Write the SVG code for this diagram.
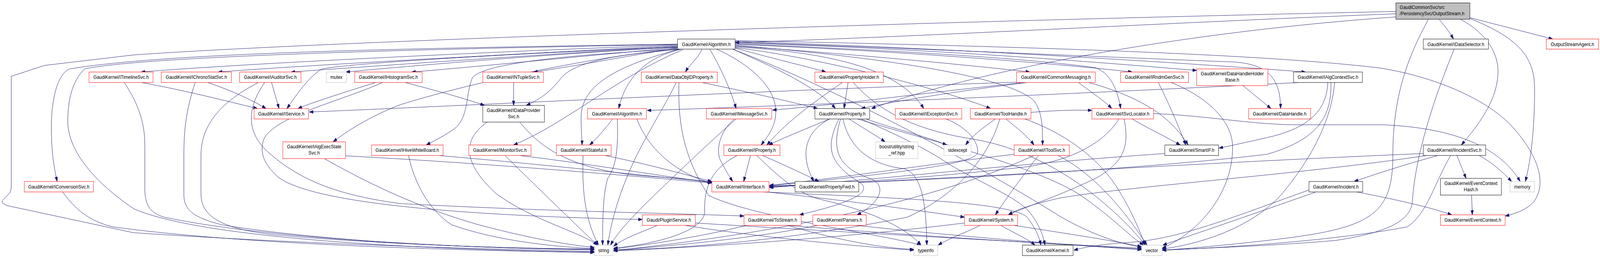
<svg xmlns="http://www.w3.org/2000/svg" width="4673" height="661" viewBox="0 0 4673 661" preserveAspectRatio="none" style="width:100%;height:100%">
<style>
.e{fill:none;stroke:#191970;stroke-width:1;marker-end:url(#arr)}
rect{fill:#ffffff;stroke-width:1}
.r rect{stroke:#ff0000}
.k rect{stroke:#000000}
.g rect{stroke:#bfbfbf}
.root rect{fill:#bfbfbf;stroke:#000000}
text{font-family:"Liberation Sans",Arial,Helvetica,sans-serif;font-size:13.1px;fill:#000000;text-anchor:middle}
.root text{text-anchor:start}
</style>
<defs>
<marker id="arr" viewBox="0 0 12 8" refX="12" refY="4" markerWidth="12" markerHeight="8" markerUnits="userSpaceOnUse" orient="auto">
<path d="M0,0 L12,4 L0,8 z" fill="#191970" stroke="#191970" stroke-width="1"/>
</marker>
</defs>
<rect x="0" y="0" width="4673" height="661" style="fill:#ffffff;stroke:none"/>
<g transform="matrix(1 0 0 0.9944 0 -0.43)">
<g id="edges">
<path class="e" d="M4077,36 C3500,55 2700,95 2147,110"/>
<path class="e" d="M4203,50 C4220,68 4235,85 4245,101"/>
<path class="e" d="M4293,46 L4535,101"/>
<path class="e" d="M4293,48 C4440,100 4482,150 4482,230 C4482,330 4472,410 4455,468"/>
<path class="e" d="M4265,50 C4330,80 4378,130 4375,190 C4372,260 4320,320 4268,374"/>
<path class="e" d="M4172,50 C4110,150 4068,250 4068,400 C4068,560 4000,590 3700,620 C3550,635 3450,642 3394,645"/>
<path class="e" d="M4077,30 C2500,60 900,110 390,142 L130,169 L33,197 L33,483 L30,496 L7,517 L7,523 L20,530 L390,600 C900,630 1400,642 1736,648"/>
<path class="e" d="M4077,44 C3500,80 2900,170 2545,280"/>
<path class="e" d="M1979,116 C1400,135 700,165 412,186"/>
<path class="e" d="M1979,118 C1500,140 900,168 637,186"/>
<path class="e" d="M1979,120 C1600,140 1100,170 850,186"/>
<path class="e" d="M1979,121 C1600,135 1050,160 940,178 C900,200 870,240 838,280"/>
<path class="e" d="M1979,122 C1600,140 1200,170 1010,186"/>
<path class="e" d="M1979,123 C1700,145 1400,172 1202,186"/>
<path class="e" d="M1979,124 C1800,150 1650,175 1558,186"/>
<path class="e" d="M1985,128 C1800,140 1680,160 1640,200 C1610,235 1580,255 1537,272"/>
<path class="e" d="M2050,127 C2040,150 2015,165 2002,186"/>
<path class="e" d="M1990,127 C1900,145 1830,190 1807,280"/>
<path class="e" d="M1985,127 C1800,170 1700,220 1697,300 C1697,340 1700,360 1700,374"/>
<path class="e" d="M2073,127 C2095,160 2130,220 2150,280"/>
<path class="e" d="M2093,127 C2200,170 2290,240 2260,320 C2250,345 2235,360 2223,374"/>
<path class="e" d="M2147,124 C2250,150 2350,170 2412,186"/>
<path class="e" d="M2140,127 C2250,170 2380,220 2440,280"/>
<path class="e" d="M2147,121 C2400,135 2620,170 2698,280"/>
<path class="e" d="M2147,123 C2400,150 2750,230 2893,280"/>
<path class="e" d="M2147,119 C2500,140 2850,170 3008,186"/>
<path class="e" d="M2147,117 C2600,150 2950,200 3020,260 C3045,290 3045,330 3045,374"/>
<path class="e" d="M2147,115 C2600,130 3100,165 3307,186"/>
<path class="e" d="M2147,113 C2600,130 3000,150 3200,175 C3245,190 3265,235 3273,280"/>
<path class="e" d="M2147,111 C2700,125 3200,160 3495,182"/>
<path class="e" d="M2147,109 C2800,130 3300,150 3600,160 C3700,165 3740,200 3740,280"/>
<path class="e" d="M2147,107 C2800,125 3500,165 3813,186"/>
<path class="e" d="M1979,126 C1700,150 1350,220 1170,270 C1080,300 1010,340 973,366"/>
<path class="e" d="M1979,127 C1700,140 1420,160 1380,200 C1360,240 1370,300 1330,330 C1300,350 1270,362 1245,374"/>
<path class="e" d="M1995,128 C1800,200 1650,320 1500,374"/>
<path class="e" d="M1979,114 C1200,125 500,135 203,178 C170,190 150,250 150,330 C150,400 160,440 167,468"/>
<path class="e" d="M1979,115 C1000,130 400,150 247,178 C210,210 198,260 198,313 C198,380 260,460 390,538 C600,620 1300,645 1736,650"/>
<path class="e" d="M2140,127 C2500,250 2900,450 3100,560 C3200,610 3280,630 3334,637"/>
<path class="e" d="M2147,105 C3000,120 3700,140 4033,176 C4200,200 4350,260 4420,330 C4490,400 4520,470 4480,520 C4460,540 4430,550 4396,557"/>
<path class="e" d="M413,213 C550,235 680,265 752,280"/>
<path class="e" d="M363,213 C390,250 423,300 423,373 L423,487 C423,530 440,550 480,560 C800,620 1400,640 1736,644"/>
<path class="e" d="M607,213 C680,235 740,260 777,280"/>
<path class="e" d="M570,213 C545,280 537,330 537,400 L537,500 C537,540 560,560 650,580 C1000,630 1500,642 1736,643"/>
<path class="e" d="M793,213 L815,280"/>
<path class="e" d="M755,213 C650,260 587,320 587,400 L587,500 C587,560 650,590 800,605 C1100,630 1500,641 1736,642"/>
<path class="e" d="M773,213 C720,280 720,340 780,390 C880,470 1000,505 1170,525 C1600,545 1900,548 2173,557"/>
<path class="e" d="M1097,213 C1000,240 920,262 870,280"/>
<path class="e" d="M1183,213 C1280,235 1360,255 1415,272"/>
<path class="e" d="M1117,213 C1000,260 800,300 770,360 C755,400 780,430 810,455 C900,520 1300,555 1876,566"/>
<path class="e" d="M1500,213 L1500,272"/>
<path class="e" d="M2050,213 C2200,240 2320,265 2388,280"/>
<path class="e" d="M1983,213 C1980,300 1990,400 2070,504 C2200,560 2550,600 2690,632"/>
<path class="e" d="M1975,213 C1950,260 1900,330 1860,400 C1810,490 1785,570 1775,632"/>
<path class="e" d="M2477,213 L2465,280"/>
<path class="e" d="M2460,213 C2400,250 2300,310 2240,374"/>
<path class="e" d="M2492,213 C2580,300 2700,340 2850,360 C3100,400 3280,560 3345,632"/>
<path class="e" d="M2975,212 C2200,235 1300,275 903,289"/>
<path class="e" d="M2990,213 C2700,240 2450,270 2256,284"/>
<path class="e" d="M3000,213 C2800,235 2620,260 2515,280"/>
<path class="e" d="M3150,213 C3190,240 3225,260 3247,280"/>
<path class="e" d="M3180,213 C3330,250 3420,300 3470,374"/>
<path class="e" d="M3383,213 C3410,260 3440,320 3463,374"/>
<path class="e" d="M3420,213 C3500,240 3600,300 3600,380 C3600,500 3500,600 3394,640"/>
<path class="e" d="M3630,221 L3712,280"/>
<path class="e" d="M3795,213 C3200,240 2400,270 1890,285"/>
<path class="e" d="M3878,213 C3875,280 3830,330 3700,355 C3640,367 3600,375 3560,382"/>
<path class="e" d="M3887,213 C3890,300 3850,360 3700,398 C3300,440 2700,465 2247,480"/>
<path class="e" d="M3898,213 C3890,300 3840,400 3740,504 C3650,590 3500,630 3394,642"/>
<path class="e" d="M4200,401 C4120,420 4030,445 3955,468"/>
<path class="e" d="M4255,401 L4282,460"/>
<path class="e" d="M4320,401 C4360,420 4390,445 4415,468"/>
<path class="e" d="M4157,396 C3500,420 2800,460 2247,481"/>
<path class="e" d="M4237,401 C4190,470 4170,550 4110,585 C3900,620 3600,638 3394,645"/>
<path class="e" d="M4167,401 C3800,450 3300,480 3100,510 C3020,525 2970,540 2945,554"/>
<path class="e" d="M3963,495 C4080,515 4180,535 4240,554"/>
<path class="e" d="M3843,495 C3700,540 3500,600 3396,632"/>
<path class="e" d="M3823,490 C3600,560 3450,615 3300,625 C3200,630 3160,640 3136,645"/>
<path class="e" d="M4298,503 L4300,554"/>
<path class="e" d="M4247,127 C4190,250 4133,400 4125,520 C4120,570 4050,600 3900,620 C3700,635 3500,640 3394,645"/>
<path class="e" d="M1423,315 C1350,360 1350,420 1450,500 C1560,570 1700,600 1745,632"/>
<path class="e" d="M1518,315 C1570,370 1650,440 1900,455 C1990,460 2040,465 2079,470"/>
<path class="e" d="M1789,307 C1770,330 1745,355 1722,374"/>
<path class="e" d="M1803,307 C1806,380 1800,430 1775,460 C1760,500 1760,580 1760,632"/>
<path class="e" d="M1860,307 C1900,400 2000,455 2079,472"/>
<path class="e" d="M2145,307 C2100,340 2090,390 2105,415 C2120,440 2130,455 2140,468"/>
<path class="e" d="M2150,307 C2080,360 1950,470 1880,530 C1830,575 1800,605 1783,632"/>
<path class="e" d="M2423,307 C2350,340 2335,400 2377,468"/>
<path class="e" d="M2455,307 C2430,380 2440,430 2540,460 C2600,480 2560,530 2503,554"/>
<path class="e" d="M2462,307 C2480,380 2540,425 2640,435 C2700,450 2705,550 2707,632"/>
<path class="e" d="M2480,307 C2520,330 2560,350 2585,366"/>
<path class="e" d="M2423,307 C2360,330 2290,355 2245,374"/>
<path class="e" d="M2530,307 C2600,330 2700,350 2765,374"/>
<path class="e" d="M2450,307 C2410,380 2420,420 2510,470 C2560,500 2450,530 2335,554"/>
<path class="e" d="M2515,307 C2600,340 2700,380 2773,424 C2850,465 2950,500 3000,540 C3030,570 3045,600 3052,632"/>
<path class="e" d="M2505,307 C2700,360 3000,420 3150,500 C3250,560 3300,610 3340,632"/>
<path class="e" d="M2763,307 C2830,330 2860,370 2855,395 C2840,420 2700,440 2247,479"/>
<path class="e" d="M2907,307 C2870,330 2840,350 2820,374"/>
<path class="e" d="M2938,307 C2970,330 3000,350 3020,374"/>
<path class="e" d="M2920,307 C2890,400 2800,500 2650,560 C2300,620 2000,640 1792,645"/>
<path class="e" d="M3011,290 C3080,285 3140,283 3189,285"/>
<path class="e" d="M2993,307 C3100,340 3200,400 3260,480 C3310,550 3330,600 3345,632"/>
<path class="e" d="M3307,307 C3350,330 3410,355 3447,374"/>
<path class="e" d="M3268,307 C3230,360 3150,410 3000,430 C2700,460 2450,472 2247,482"/>
<path class="e" d="M3283,307 C3300,380 3280,420 3200,460 C3080,510 2990,535 2945,554"/>
<path class="e" d="M3369,293 C3550,300 3650,322 3800,322 L4040,322 C4250,330 4380,380 4440,468"/>
<path class="e" d="M1009,402 C1400,420 1800,450 2079,472"/>
<path class="e" d="M947,409 C1050,460 1200,530 1400,580 C1550,615 1650,630 1736,638"/>
<path class="e" d="M1280,401 C1600,425 1900,455 2079,469"/>
<path class="e" d="M1193,401 C1210,470 1250,540 1320,580 C1450,620 1600,635 1736,641"/>
<path class="e" d="M1517,401 C1700,420 1900,450 2079,471"/>
<path class="e" d="M1475,401 C1520,440 1600,510 1660,560 C1700,595 1725,615 1745,632"/>
<path class="e" d="M1703,401 C1700,480 1705,560 1748,632"/>
<path class="e" d="M1767,401 C1900,425 2000,450 2079,468"/>
<path class="e" d="M2192,401 L2172,468"/>
<path class="e" d="M2153,401 C2090,430 2055,470 2058,547 C2055,590 1950,625 1792,640"/>
<path class="e" d="M2227,401 C2290,425 2350,450 2392,468"/>
<path class="e" d="M2210,401 C2280,460 2330,500 2400,515 C2550,545 2650,590 2690,632"/>
<path class="e" d="M3033,401 C2990,450 2940,510 2907,554"/>
<path class="e" d="M3090,401 C3200,450 3290,550 3350,632"/>
<path class="e" d="M3020,401 C2800,490 2400,590 1792,646"/>
<path class="e" d="M2962,398 C2700,425 2450,460 2247,478"/>
<path class="e" d="M3402,396 C3000,420 2600,460 2247,484"/>
<path class="e" d="M183,495 C220,540 260,570 330,585 C700,630 1300,645 1736,651"/>
<path class="e" d="M2230,495 C2600,510 2950,520 3000,560 C3025,590 3035,610 3040,632"/>
<path class="e" d="M2240,495 C2500,520 2700,545 2817,560"/>
<path class="e" d="M2300,581 C2450,620 2580,640 2669,643"/>
<path class="e" d="M1920,581 C1870,600 1820,615 1792,635"/>
<path class="e" d="M2000,581 C2200,610 2500,635 2669,645"/>
<path class="e" d="M2031,575 C2500,600 3000,625 3334,640"/>
<path class="e" d="M2180,581 C2050,610 1900,630 1792,642"/>
<path class="e" d="M2300,581 C2700,610 3100,630 3334,642"/>
<path class="e" d="M2390,581 C2200,615 1950,635 1792,645"/>
<path class="e" d="M2500,581 C2800,610 3100,630 3334,644"/>
<path class="e" d="M2923,581 C2960,600 3000,615 3023,632"/>
<path class="e" d="M2863,581 C2820,600 2770,615 2740,632"/>
<path class="e" d="M2817,575 C2500,610 2100,635 1792,647"/>
<path class="e" d="M2960,581 C3100,600 3250,620 3334,636"/>
</g>
<g id="n0" class="root"><rect x="4077" y="8" width="216" height="42"/><text x="4088" y="24">GaudiCommonSvc/src</text><text x="4088" y="40">/PersistencySvc/OutputStream.h</text></g>
<g id="n-algorithm" class="k"><rect x="1979" y="101" width="168" height="26"/><text x="2063" y="119">GaudiKernel/Algorithm.h</text></g>
<g id="n-idataselector" class="k"><rect x="4157" y="101" width="190" height="26"/><text x="4252" y="119">GaudiKernel/IDataSelector.h</text></g>
<g id="n-outputstreamagent" class="r"><rect x="4516" y="101" width="153" height="26"/><text x="4592.5" y="119">OutputStreamAgent.h</text></g>
<g id="n-itimelinesvc" class="r"><rect x="260" y="186" width="187" height="27"/><text x="353.5" y="204">GaudiKernel/ITimelineSvc.h</text></g>
<g id="n-ichronostatsvc" class="r"><rect x="471" y="186" width="205" height="27"/><text x="573.5" y="204">GaudiKernel/IChronoStatSvc.h</text></g>
<g id="n-iauditorsvc" class="r"><rect x="700" y="186" width="179" height="27"/><text x="789.5" y="204">GaudiKernel/IAuditorSvc.h</text></g>
<g id="n-mutex" class="g"><rect x="953" y="186" width="59" height="27"/><text x="982.5" y="204">mutex</text></g>
<g id="n-ihistogramsvc" class="r"><rect x="1036" y="186" width="197" height="27"/><text x="1134.5" y="204">GaudiKernel/IHistogramSvc.h</text></g>
<g id="n-intuplesvc" class="r"><rect x="1410" y="186" width="177" height="27"/><text x="1498.5" y="204">GaudiKernel/INTupleSvc.h</text></g>
<g id="n-dataobjidproperty" class="r"><rect x="1873" y="186" width="222" height="27"/><text x="1984" y="204">GaudiKernel/DataObjIDProperty.h</text></g>
<g id="n-propertyholder" class="r"><rect x="2380" y="186" width="200" height="27"/><text x="2480" y="204">GaudiKernel/PropertyHolder.h</text></g>
<g id="n-commonmessaging" class="r"><rect x="2969" y="186" width="230" height="27"/><text x="3084" y="204">GaudiKernel/CommonMessaging.h</text></g>
<g id="n-irndmgensvc" class="r"><rect x="3273" y="186" width="198" height="27"/><text x="3372" y="204">GaudiKernel/IRndmGenSvc.h</text></g>
<g id="n-datahandleholderbase" class="r"><rect x="3495" y="178" width="208" height="43"/><text x="3599" y="195">GaudiKernel/DataHandleHolder</text><text x="3599" y="211">Base.h</text></g>
<g id="n-ialgcontextsvc" class="k"><rect x="3778" y="186" width="201" height="27"/><text x="3878.5" y="204">GaudiKernel/IAlgContextSvc.h</text></g>
<g id="n-iservice" class="r"><rect x="742" y="280" width="159" height="27"/><text x="821.5" y="298">GaudiKernel/IService.h</text></g>
<g id="n-idataprovidersvc" class="k"><rect x="1410" y="272" width="180" height="43"/><text x="1500" y="289">GaudiKernel/IDataProvider</text><text x="1500" y="305">Svc.h</text></g>
<g id="n-ialgorithm" class="r"><rect x="1716" y="280" width="172" height="27"/><text x="1802" y="298">GaudiKernel/IAlgorithm.h</text></g>
<g id="n-imessagesvc" class="r"><rect x="2063" y="280" width="191" height="27"/><text x="2158.5" y="298">GaudiKernel/IMessageSvc.h</text></g>
<g id="n-property" class="k"><rect x="2380" y="280" width="160" height="27"/><text x="2460" y="298">GaudiKernel/Property.h</text></g>
<g id="n-iexceptionsvc" class="r"><rect x="2615" y="280" width="194" height="27"/><text x="2712" y="298">GaudiKernel/IExceptionSvc.h</text></g>
<g id="n-toolhandle" class="r"><rect x="2834" y="280" width="177" height="27"/><text x="2922.5" y="298">GaudiKernel/ToolHandle.h</text></g>
<g id="n-isvclocator" class="r"><rect x="3189" y="280" width="180" height="27"/><text x="3279" y="298">GaudiKernel/ISvcLocator.h</text></g>
<g id="n-datahandle" class="r"><rect x="3647" y="280" width="181" height="27"/><text x="3737.5" y="298">GaudiKernel/DataHandle.h</text></g>
<g id="n-ialgexecstatesvc" class="r"><rect x="826" y="366" width="183" height="43"/><text x="917.5" y="383">GaudiKernel/IAlgExecState</text><text x="917.5" y="399">Svc.h</text></g>
<g id="n-ihivewhiteboard" class="r"><rect x="1085" y="374" width="209" height="27"/><text x="1189.5" y="392">GaudiKernel/IHiveWhiteBoard.h</text></g>
<g id="n-imonitorsvc" class="r"><rect x="1369" y="374" width="182" height="27"/><text x="1460" y="392">GaudiKernel/IMonitorSvc.h</text></g>
<g id="n-istateful" class="r"><rect x="1625" y="374" width="160" height="27"/><text x="1705" y="392">GaudiKernel/IStateful.h</text></g>
<g id="n-iproperty" class="r"><rect x="2114" y="374" width="164" height="27"/><text x="2196" y="392">GaudiKernel/IProperty.h</text></g>
<g id="n-boost" class="g"><rect x="2557" y="366" width="124" height="43"/><text x="2619" y="383">boost/utility/string</text><text x="2619" y="399">_ref.hpp</text></g>
<g id="n-stdexcept" class="g"><rect x="2757" y="374" width="79" height="27"/><text x="2796.5" y="392">stdexcept</text></g>
<g id="n-itoolsvc" class="r"><rect x="2962" y="374" width="161" height="27"/><text x="3042.5" y="392">GaudiKernel/IToolSvc.h</text></g>
<g id="n-smartif" class="k"><rect x="3402" y="374" width="157" height="27"/><text x="3480.5" y="392">GaudiKernel/SmartIF.h</text></g>
<g id="n-iincidentsvc" class="k"><rect x="4157" y="374" width="182" height="27"/><text x="4248" y="392">GaudiKernel/IIncidentSvc.h</text></g>
<g id="n-iconversionsvc" class="r"><rect x="71" y="468" width="202" height="27"/><text x="172" y="486">GaudiKernel/IConversionSvc.h</text></g>
<g id="n-iinterface" class="r"><rect x="2079" y="468" width="167" height="27"/><text x="2162.5" y="486">GaudiKernel/IInterface.h</text></g>
<g id="n-propertyfwd" class="k"><rect x="2322" y="468" width="186" height="27"/><text x="2415" y="486">GaudiKernel/PropertyFwd.h</text></g>
<g id="n-incident" class="k"><rect x="3823" y="468" width="157" height="27"/><text x="3901.5" y="486">GaudiKernel/Incident.h</text></g>
<g id="n-eventcontexthash" class="k"><rect x="4207" y="460" width="178" height="43"/><text x="4296" y="477">GaudiKernel/EventContext</text><text x="4296" y="493">Hash.h</text></g>
<g id="n-memory" class="g"><rect x="4410" y="468" width="72" height="27"/><text x="4446" y="486">memory</text></g>
<g id="n-pluginservice" class="r"><rect x="1876" y="554" width="155" height="27"/><text x="1953.5" y="572">Gaudi/PluginService.h</text></g>
<g id="n-tostream" class="r"><rect x="2173" y="554" width="167" height="27"/><text x="2256.5" y="572">GaudiKernel/ToStream.h</text></g>
<g id="n-parsers" class="r"><rect x="2374" y="554" width="156" height="27"/><text x="2452" y="572">GaudiKernel/Parsers.h</text></g>
<g id="n-system" class="r"><rect x="2817" y="554" width="155" height="27"/><text x="2894.5" y="572">GaudiKernel/System.h</text></g>
<g id="n-eventcontext" class="r"><rect x="4207" y="554" width="189" height="27"/><text x="4301.5" y="572">GaudiKernel/EventContext.h</text></g>
<g id="n-string" class="g"><rect x="1736" y="632" width="54" height="27"/><text x="1763" y="650">string</text></g>
<g id="n-typeinfo" class="g"><rect x="2669" y="632" width="70" height="27"/><text x="2704" y="650">typeinfo</text></g>
<g id="n-kernel" class="k"><rect x="2986" y="632" width="148" height="27"/><text x="3060" y="650">GaudiKernel/Kernel.h</text></g>
<g id="n-vector" class="g"><rect x="3334" y="632" width="60" height="27"/><text x="3364" y="650">vector</text></g>
</g>
</svg>
